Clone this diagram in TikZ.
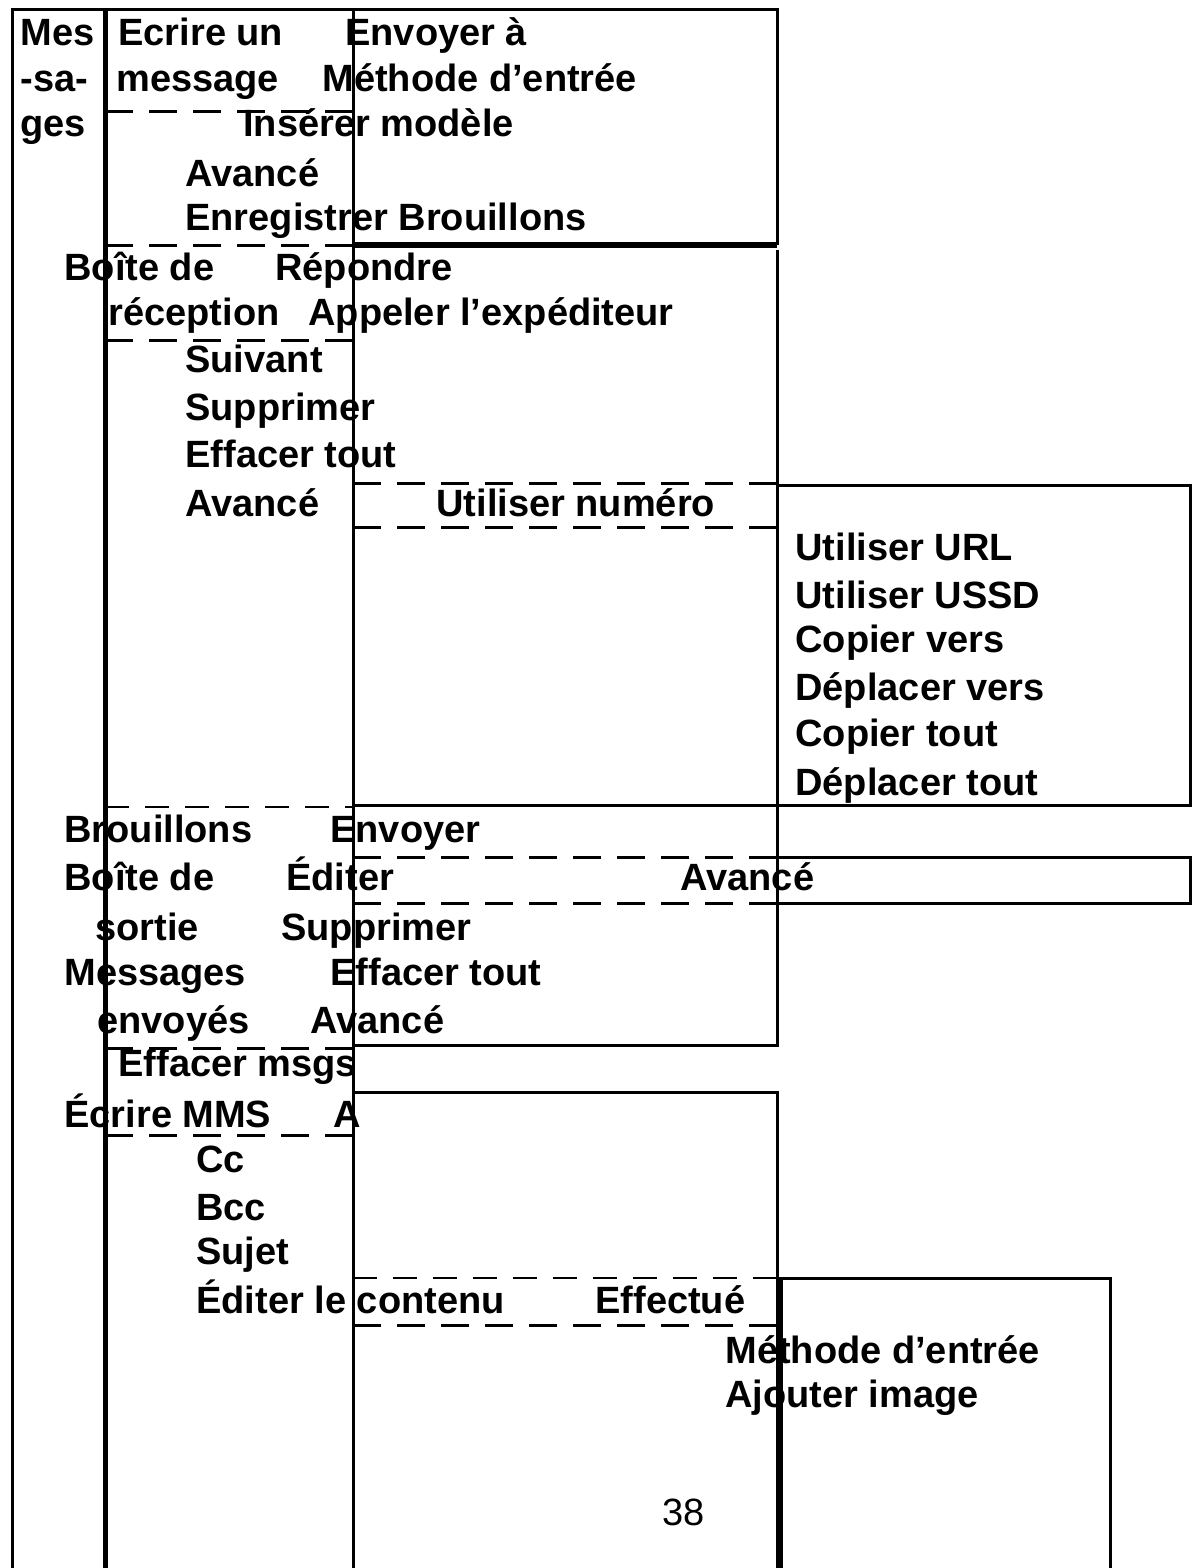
\documentclass[tikz,border=0pt]{standalone}
\usepackage{fontspec}
\setmainfont{Liberation Sans}
\begin{document}
\begin{tikzpicture}[x=0.5pt,y=-0.5pt,
	item/.style={anchor=base west,inner sep=0pt,font=\fontsize{19}{22}\selectfont\bfseries},
	sep line/.style={dash pattern=on 14pt off 8pt,line width=1.5pt},
	thin sep/.style={dash pattern=on 12pt off 8pt,line width=0.8pt},
	frame/.style={line width=1.5pt}]
	\useasboundingbox (0,0) rectangle (1201,1568);
		% columns
		\draw[frame] (12,1568) -- (12,10) -- (777,10) -- (777,245);
		\draw[line width=2.5pt] (105,10) -- (105,1568);
		\draw[frame] (353,10) -- (353,1568);
		\draw[line width=3pt] (353,245) -- (777,245);
		\draw[frame] (777,250) -- (777,1045) -- (353,1045);
		\draw[frame] (353,805) -- (777,805);
		\draw[frame] (353,1092) -- (777,1092) -- (777,1568);
		\draw[line width=2.5pt] (780,1278) -- (780,1568);
		% side boxes
		\draw[frame] (777,485) rectangle (1190,805);
		\draw[frame] (777,857) rectangle (1190,903);
		\draw[frame] (1110,1568) -- (1110,1278) -- (777,1278);
		% dashed separators
		\draw[sep line] (105,112) -- (353,112);
		\draw[sep line] (105,245) -- (353,245);
		\draw[sep line] (105,340) -- (353,340);
		\draw[sep line] (353,483) -- (777,483) (353,527) -- (777,527);
		\draw[thin sep] (105,807) -- (353,807);
		\draw[sep line] (353,857) -- (777,857) (353,903) -- (777,903);
		\draw[sep line] (105,1048) -- (353,1048);
		\draw[sep line] (105,1135) -- (353,1135);
		\draw[thin sep] (353,1278) -- (777,1278);
		\draw[sep line] (353,1325) -- (777,1325);
		% texts
		\node[item] (mes) at (20,46) {Mes};
		\node[item] (sa) at (20,92) {-sa-};
		\node[item] (ges) at (20,136) {ges};
		\node[item] (ecrire) at (118,46) {Ecrire un};
		\node[item] (message) at (116,92) {message};
		\node[item] (envoyera) at (345,46) {Envoyer à};
		\node[item] (methode) at (322,92) {Méthode d’entrée};
		\node[item] (inserer) at (243,136) {Insérer modèle};
		\node[item] (avance1) at (185,186) {Avancé};
		\node[item] (enreg) at (185,230) {Enregistrer Brouillons};
		\node[item] (boite) at (64,280) {Boîte de};
		\node[item] (repondre) at (275,280) {Répondre};
		\node[item] (reception) at (108,325) {réception};
		\node[item] (appeler) at (308,325) {Appeler l’expéditeur};
		\node[item] (suivant) at (185,372) {Suivant};
		\node[item] (suppr1) at (185,420) {Supprimer};
		\node[item] (effacer1) at (185,467) {Effacer tout};
		\node[item] (avance2) at (185,516) {Avancé};
		\node[item] (numero) at (436,516) {Utiliser numéro};
		\node[item] (url) at (795,560) {Utiliser URL};
		\node[item] (ussd) at (795,608) {Utiliser USSD};
		\node[item] (copier) at (795,652) {Copier vers};
		\node[item] (deplacer) at (795,700) {Déplacer vers};
		\node[item] (copiert) at (795,746) {Copier tout};
		\node[item] (deplacert) at (795,795) {Déplacer tout};
		\node[item] (brouillons) at (64,842) {Brouillons};
		\node[item] (envoyer) at (330,842) {Envoyer};
		\node[item] (boite2) at (64,890) {Boîte de};
		\node[item] (editer) at (286,890) {Éditer};
		\node[item] (avance3) at (680,890) {Avancé};
		\node[item] (sortie) at (95,940) {sortie};
		\node[item] (suppr2) at (281,940) {Supprimer};
		\node[item] (messages) at (64,985) {Messages};
		\node[item] (effacer2) at (330,985) {Effacer tout};
		\node[item] (envoyes) at (97,1033) {envoyés};
		\node[item] (avance4) at (310,1033) {Avancé};
		\node[item] (effmsgs) at (118,1076) {Effacer msgs};
		\node[item] (mms) at (64,1127) {Écrire MMS};
		\node[item] (a) at (333,1127) {A};
		\node[item] (cc) at (196,1172) {Cc};
		\node[item] (bcc) at (196,1220) {Bcc};
		\node[item] (sujet) at (196,1264) {Sujet};
		\node[item] (contenu) at (196,1313) {Éditer le contenu};
		\node[item] (effectue) at (595,1313) {Effectué};
		\node[item] (methode2) at (725,1363) {Méthode d’entrée};
		\node[item] (image) at (725,1407) {Ajouter image};
		\node[item,font=\fontsize{19}{22}\selectfont] (page) at (662,1525) {38};
	\end{tikzpicture}
\end{document}
